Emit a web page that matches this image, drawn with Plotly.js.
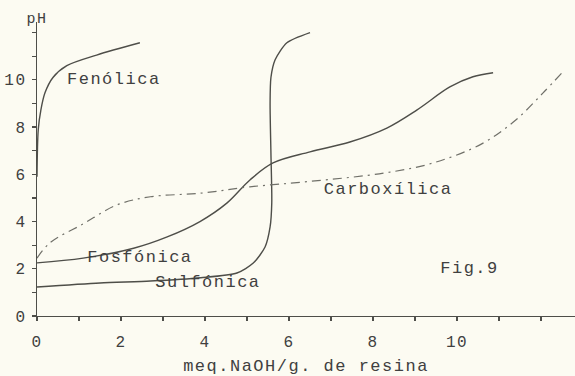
<!DOCTYPE html>
<html>
<head>
<meta charset="utf-8">
<script src="https://cdn.plot.ly/plotly-3.0.1.min.js"></script>
<style>
html,body{margin:0;padding:0;background:#fcfbf2;}
#chart{width:575px;height:376px;}
#chart text{letter-spacing:1.5px;}
</style>
</head>
<body>
<div id="chart"></div>
<script>
// Fenólica
var fenX = [0.0, 0.03, 0.09, 0.19, 0.38, 0.71, 1.42, 2.45];
var fenY = [5.9, 7.9, 8.7, 9.45, 10.1, 10.6, 11.05, 11.57];
// Sulfónica
var sulX = [0, 1.5, 2.7, 3.9, 4.76, 5.15, 5.43, 5.55, 5.59, 5.57, 5.55, 5.57, 5.67, 5.95, 6.5];
var sulY = [1.23, 1.4, 1.48, 1.62, 1.82, 2.24, 2.92, 3.77, 4.8, 6.9, 9.0, 10.1, 10.85, 11.57, 12.0];
// Fosfónica
var fosX = [0, 1.1, 2.3, 3.1, 3.88, 4.52, 5.07, 5.62, 6.5, 7.45, 8.33, 9.05, 9.83, 10.38, 10.86];
var fosY = [2.25, 2.45, 2.87, 3.35, 4.0, 4.78, 5.76, 6.48, 6.95, 7.37, 7.96, 8.73, 9.7, 10.13, 10.3];
// Carboxílica
var carX = [0, 0.31, 1.1, 1.9, 2.7, 3.9, 5.07, 6.5, 8.25, 9.43, 10.6, 11.4, 12.05, 12.5];
var carY = [2.45, 3.1, 3.9, 4.7, 5.05, 5.2, 5.47, 5.7, 6.05, 6.48, 7.3, 8.3, 9.45, 10.3];

var xTicks = [0, 2, 4, 6, 8, 10];
var yTicks = [0, 2, 4, 6, 8, 10];

var labels = [
  {text: 'Fenólica', x: 1.83, y: 10.0},
  {text: 'Fosfónica', x: 2.45, y: 2.46},
  {text: 'Sulfónica', x: 4.07, y: 1.4},
  {text: 'Carboxílica', x: 8.36, y: 5.34},
  {text: 'Fig.9', x: 10.3, y: 2.03}
];

var ink = '#4e4e49';
var font = {family: '"Liberation Mono", "DejaVu Sans Mono", monospace', size: 17, color: '#404040'};

var traces = [
  {x: fenX, y: fenY, mode: 'lines', line: {color: ink, width: 1.4, shape: 'spline', smoothing: 0.9}, hoverinfo: 'skip'},
  {x: sulX, y: sulY, mode: 'lines', line: {color: ink, width: 1.4, shape: 'spline', smoothing: 0.7}, hoverinfo: 'skip'},
  {x: fosX, y: fosY, mode: 'lines', line: {color: ink, width: 1.4, shape: 'spline', smoothing: 1}, hoverinfo: 'skip'},
  {x: carX, y: carY, mode: 'lines', line: {color: '#707069', width: 1.2, shape: 'spline', smoothing: 1, dash: '9px,5px,2px,5px'}, hoverinfo: 'skip'}
];

var annotations = labels.map(function (l) {
  return {text: l.text, x: l.x, y: l.y, xref: 'x', yref: 'y', showarrow: false, font: font};
});
annotations.push({text: 'pH', x: 0, y: 1, xref: 'paper', yref: 'paper', xanchor: 'center', yanchor: 'bottom', yshift: -8, showarrow: false, font: {family: font.family, size: 15, color: font.color}});

var layout = {
  width: 575, height: 376,
  margin: {l: 37, r: 0, t: 22, b: 60},
  paper_bgcolor: '#fcfbf2', plot_bgcolor: '#fcfbf2',
  showlegend: false,
  font: font,
  xaxis: {
    range: [0, 12.81], showgrid: false, zeroline: false,
    showline: true, linecolor: ink, linewidth: 1.3,
    tickmode: 'array', tickvals: xTicks, ticktext: xTicks.map(String),
    ticks: 'outside', ticklen: 4, tickcolor: ink, tickwidth: 1.2,
    ticklabelstandoff: 6,
    minor: {dtick: 1, ticks: 'outside', ticklen: 4, tickcolor: ink, tickwidth: 1.2, showgrid: false},
    tickfont: {family: font.family, size: 16, color: font.color},
    title: {text: 'meq.NaOH/g. de resina', font: font, standoff: 8}
  },
  yaxis: {
    range: [0, 12.45], showgrid: false, zeroline: false,
    showline: true, linecolor: ink, linewidth: 1.3,
    tickmode: 'array', tickvals: yTicks, ticktext: yTicks.map(String),
    ticks: 'outside', ticklen: 4, tickcolor: ink, tickwidth: 1.2,
    ticklabelstandoff: 2,
    minor: {dtick: 1, ticks: 'outside', ticklen: 4, tickcolor: ink, tickwidth: 1.2, showgrid: false},
    tickfont: {family: font.family, size: 16, color: font.color}
  },
  annotations: annotations
};

Plotly.newPlot('chart', traces, layout, {staticPlot: true, displayModeBar: false});
</script>
</body>
</html>
